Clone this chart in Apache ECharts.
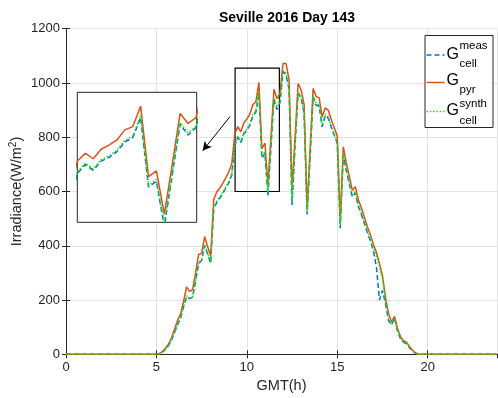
<!DOCTYPE html>
<html><head><meta charset="utf-8">
<script src="https://cdn.jsdelivr.net/npm/echarts@6/dist/echarts.min.js"></script>
<style>html,body{margin:0;padding:0;background:#fff}#c{width:498px;height:398px}</style>
</head><body><div id="c"></div>
<script>
// time step of data: 10 minutes, 144 samples (0 .. 23.833 h)
const stepHours = 1/6;
const nSamples = 144;

// G_cell^meas (blue dashed)
const gMeas = [
0,0,0,0,0,0,0,0,0,0,0,0,0,0,0,0,0,0,0,0,0,0,0,0,0,0,0,0,0,0,
0,2,8,18,32,52,80,108,132,175,212,205,210,270,335,345,402,370,335,535,
560,575,592,612,632,660,770,800,780,812,825,845,878,893,962,722,742,585,765,940,
902,928,1042,1030,978,550,770,962,945,888,515,730,948,918,915,838,880,870,838,808,
778,465,735,678,628,580,595,545,515,482,448,418,382,320,200,235,188,125,108,135,
85,57,44,38,24,12,3,0,
0,0,0,0,0,0,0,0,0,0,0,0,0,0,0,0,0,0,0,0,0,0,0,0,0,0
];
// G_pyr (orange solid)
const gPyr = [
0,0,0,0,0,0,0,0,0,0,0,0,0,0,0,0,0,0,0,0,0,0,0,0,0,0,0,0,0,0,
0,3,10,22,38,60,92,125,148,195,248,232,238,300,368,372,434,396,362,570,
598,612,630,650,672,702,812,839,820,853,867,885,920,931,1002,758,778,628,800,977,
942,962,1072,1072,1012,610,800,998,975,920,535,760,980,950,945,875,908,900,865,835,
805,495,765,705,655,605,618,570,540,505,470,440,405,375,335,290,210,150,120,140,
95,65,50,44,28,15,5,0,
0,0,0,0,0,0,0,0,0,0,0,0,0,0,0,0,0,0,0,0,0,0,0,0,0,0
];
// G_cell^synth (green dotted)
const gSynth = [
0,0,0,0,0,0,0,0,0,0,0,0,0,0,0,0,0,0,0,0,0,0,0,0,0,0,0,0,0,0,
0,2,8,19,33,54,82,110,135,178,215,208,213,273,338,348,405,373,338,540,
565,580,597,617,637,665,775,805,785,817,830,850,884,898,970,728,748,598,770,946,
910,932,1046,1038,984,570,775,968,950,894,525,738,955,925,920,845,885,877,843,813,
785,475,745,688,635,588,600,552,522,488,455,425,392,360,322,278,200,140,112,132,
88,60,46,41,26,13,4,0,
0,0,0,0,0,0,0,0,0,0,0,0,0,0,0,0,0,0,0,0,0,0,0,0,0,0
];

const zoomBox = {t0:9.35, t1:11.8, v0:600, v1:1055};
const insetRange = {t0:9.33, t1:11.85, v0:600, v1:1050};
const arrowFrom = [9.07, 876], arrowTo = [7.56, 750];

const times = Array.from({length:nSamples}, (_,k)=>k*stepHours);
const pairs = arr => arr.map((v,k)=>[times[k], v]);

const C_BLUE='#0072BD', C_OR='#D95319', C_GR='#1BE51B', AX='#262626';
const FONT='Liberation Sans, Arial, Helvetica, sans-serif';

function mkSeries(xi, yi, z, withMarks){
  const s = [
    {name:'meas', type:'line', xAxisIndex:xi, yAxisIndex:yi, data:pairs(gMeas), showSymbol:false, symbol:'none', z:z,
     lineStyle:{color:C_BLUE, width:1.5, type:[5,3]}, animation:false, clip:true},
    {name:'pyr', type:'line', xAxisIndex:xi, yAxisIndex:yi, data:pairs(gPyr), showSymbol:false, symbol:'none', z:z+1,
     lineStyle:{color:C_OR, width:1.5}, animation:false, clip:true},
    {name:'synth', type:'line', xAxisIndex:xi, yAxisIndex:yi, data:pairs(gSynth), showSymbol:false, symbol:'none', z:z+2,
     lineStyle:{color:C_GR, width:1.5, type:[1.5,1.8]}, animation:false, clip:true}
  ];
  if(withMarks){
    s[1].markArea = {silent:true, itemStyle:{color:'rgba(0,0,0,0)', borderColor:'#000', borderWidth:1.2},
      data:[[{coord:[zoomBox.t0, zoomBox.v0]},{coord:[zoomBox.t1, zoomBox.v1]}]]};
    s[1].markLine = {silent:true, symbol:['none','arrow'], symbolSize:[7,9], animation:false,
      lineStyle:{color:'#000', width:1, type:'solid'}, label:{show:false},
      data:[[{coord:arrowFrom},{coord:arrowTo}]]};
  }
  return s;
}

const axisCommon = {axisLine:{show:true, lineStyle:{color:AX, width:1}},
  axisTick:{show:true, inside:true, length:4, lineStyle:{color:AX}}};
const fmt = v => String(v);

const chart = echarts.init(document.getElementById('c'), null, {renderer:'canvas'});
chart.setOption({
  animation:false,
  backgroundColor:'#fff',
  title:{text:'Seville 2016 Day 143', left:282, top:6, textAlign:'center',
    textStyle:{fontFamily:FONT, fontSize:14, fontWeight:'bold', color:'#000'}},
  grid:[
    {left:66, top:28.7, width:431, height:325.6, show:false, containLabel:false, outerBoundsMode:'none'},
    {left:77.3, top:92.3, width:119.4, height:130, show:true, backgroundColor:'#fff', borderColor:AX, borderWidth:1, z:5,
     containLabel:false, outerBoundsMode:'none'}
  ],
  xAxis:[
    Object.assign({type:'value', gridIndex:0, min:0, max:23.8333, interval:5, position:'bottom',
      name:'GMT(h)', nameLocation:'middle', nameGap:24, nameMoveOverlap:false,
      nameTextStyle:{fontFamily:FONT, fontSize:14.5, color:AX},
      axisLabel:{fontFamily:FONT, fontSize:13, color:AX, margin:7, showMaxLabel:false, formatter:fmt},
      splitLine:{show:true, lineStyle:{color:'#e3e3e3', width:1}}}, axisCommon),
    Object.assign({type:'value', gridIndex:0, min:0, max:23.8333, interval:5, position:'top',
      axisLabel:{show:false}, splitLine:{show:false}}, axisCommon),
    {type:'value', gridIndex:1, min:insetRange.t0, max:insetRange.t1, show:false, z:6}
  ],
  yAxis:[
    Object.assign({type:'value', gridIndex:0, min:0, max:1200, interval:200, position:'left',
      name:'Irradiance(W/m{sup|2})', nameLocation:'middle', nameGap:40, nameMoveOverlap:false,
      nameTextStyle:{fontFamily:FONT, fontSize:14.5, color:AX,
        rich:{sup:{fontFamily:FONT, fontSize:10, color:AX, verticalAlign:'top', padding:[0,0,8,0]}}},
      axisLabel:{fontFamily:FONT, fontSize:13, color:AX, margin:6, formatter:fmt},
      splitLine:{show:true, lineStyle:{color:'#e3e3e3', width:1}}}, axisCommon),
    Object.assign({type:'value', gridIndex:0, min:0, max:1200, interval:200, position:'right',
      axisLabel:{show:false}, splitLine:{show:false}}, axisCommon),
    {type:'value', gridIndex:1, min:insetRange.v0, max:insetRange.v1, show:false, z:6}
  ],
  series: mkSeries(0,0,2,true).concat(mkSeries(2,2,10,false)),
  graphic:[
    {type:'group', left:424, top:35, z:100, children:[
      {type:'rect', z:100, shape:{x:0.5,y:0.5,width:68,height:92}, style:{fill:'#fff', stroke:AX, lineWidth:1}},
      {type:'polyline', z:101, shape:{points:[[2,20],[20,20]]}, style:{stroke:C_BLUE, lineWidth:1.5, lineDash:[5,3], fill:null}},
      {type:'text', z:101, style:{text:'G', x:22, y:20, fontFamily:FONT, fontSize:16, fill:'#000', verticalAlign:'middle'}},
      {type:'text', z:101, style:{text:'meas', x:35, y:11, fontFamily:FONT, fontSize:11.5, fill:'#000', verticalAlign:'middle'}},
      {type:'text', z:101, style:{text:'cell', x:35, y:29, fontFamily:FONT, fontSize:11.5, fill:'#000', verticalAlign:'middle'}},
      {type:'polyline', z:101, shape:{points:[[2,47.5],[20,47.5]]}, style:{stroke:C_OR, lineWidth:1.5, fill:null}},
      {type:'text', z:101, style:{text:'G', x:22, y:46, fontFamily:FONT, fontSize:16, fill:'#000', verticalAlign:'middle'}},
      {type:'text', z:101, style:{text:'pyr', x:35, y:55, fontFamily:FONT, fontSize:11.5, fill:'#000', verticalAlign:'middle'}},
      {type:'polyline', z:101, shape:{points:[[2,76.5],[20,76.5]]}, style:{stroke:C_GR, lineWidth:1.5, lineDash:[1.5,1.8], fill:null}},
      {type:'text', z:101, style:{text:'G', x:22, y:76, fontFamily:FONT, fontSize:16, fill:'#000', verticalAlign:'middle'}},
      {type:'text', z:101, style:{text:'synth', x:35, y:69, fontFamily:FONT, fontSize:11.5, fill:'#000', verticalAlign:'middle'}},
      {type:'text', z:101, style:{text:'cell', x:35, y:86, fontFamily:FONT, fontSize:11.5, fill:'#000', verticalAlign:'middle'}}
    ]}
  ]
});
</script></body></html>
